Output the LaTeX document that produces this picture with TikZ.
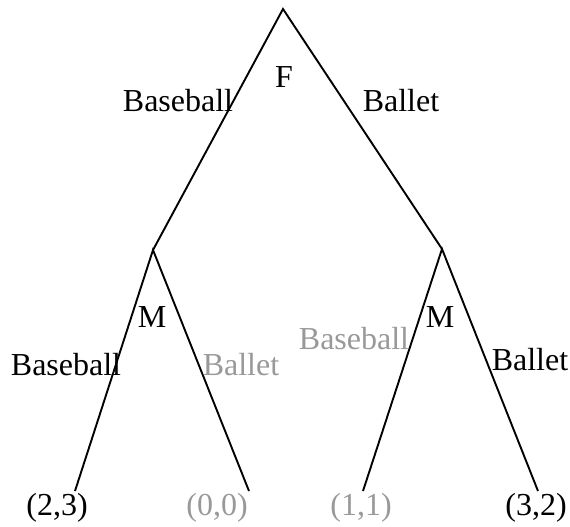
\documentclass[tikz,border=0pt]{standalone}
\usepackage{fontspec}
\setmainfont{Liberation Serif}
\begin{document}
\begin{tikzpicture}[x=1pt,y=-1pt,
  edge/.style={line width=1.9pt, black},
  lbl/.style={anchor=base, inner sep=0pt, font=\rmfamily\fontsize{32}{38}\selectfont},
  dim/.style={lbl, text=black!40}]
\useasboundingbox (0,0) rectangle (570,527);
\coordinate (root) at (283,9);
\coordinate (mL) at (153,250);
\coordinate (mR) at (442,249);
\coordinate (e1) at (75,491);
\coordinate (e2) at (249,491);
\coordinate (e3) at (363,491);
\coordinate (e4) at (538,491);
\draw[edge] (mL) -- (root) -- (mR);
\draw[edge] (e1) -- (mL) -- (e2);
\draw[edge] (e3) -- (mR) -- (e4);
\node[lbl] (F) at (284,87) {F};
\node[lbl] (b1) at (178,111) {Baseball};
\node[lbl] (a1) at (401,111) {Ballet};
\node[lbl] (M1) at (152,327) {M};
\node[lbl] (M2) at (440,327) {M};
\node[lbl] (b2) at (66,375) {Baseball};
\node[dim] (a2) at (241,375) {Ballet};
\node[dim] (b3) at (354,349) {Baseball};
\node[lbl] (a3) at (530,370) {Ballet};
\node[lbl] (l1) at (57,515) {(2,3)};
\node[dim] (l2) at (217,515) {(0,0)};
\node[dim] (l3) at (361,515) {(1,1)};
\node[lbl] (l4) at (536,515) {(3,2)};
\end{tikzpicture}
\end{document}
